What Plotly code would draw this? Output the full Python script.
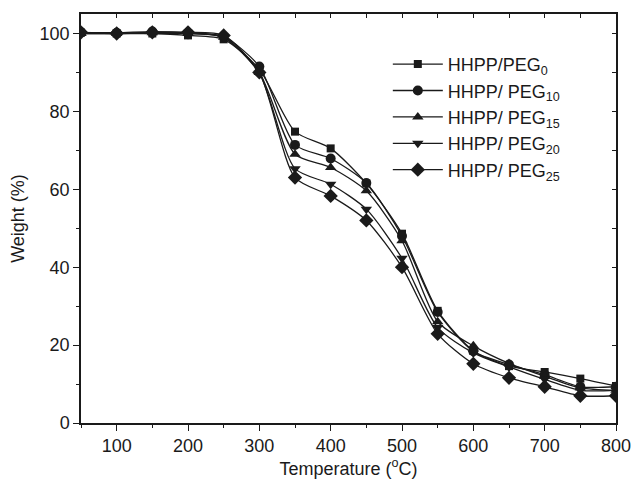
import plotly.graph_objects as go

temps = [50, 100, 150, 200, 250, 300, 350, 400, 450, 500, 550, 600, 650, 700, 750, 800]
peg0 = [100.2, 100.0, 100.0, 99.5, 98.5, 90.8, 74.8, 70.5, 61.5, 48.6, 28.8, 18.5, 14.6, 13.1, 11.4, 9.5]
peg10 = [100.3, 100.2, 100.5, 100.2, 99.2, 91.5, 71.4, 67.9, 61.6, 48.0, 28.5, 18.4, 15.0, 12.4, 9.3, 9.3]
peg15 = [100.0, 100.0, 100.2, 100.0, 99.0, 90.0, 69.0, 65.6, 59.6, 46.8, 26.0, 19.8, 15.3, 12.0, 9.0, 8.4]
peg20 = [100.0, 100.0, 100.0, 100.0, 99.0, 89.8, 65.3, 61.3, 54.9, 42.3, 24.5, 18.0, 14.4, 11.2, 8.4, 8.4]
peg25 = [100.3, 100.0, 100.3, 100.3, 99.5, 90.0, 63.0, 58.3, 52.0, 40.0, 22.9, 15.2, 11.6, 9.3, 7.0, 7.0]

names = ["HHPP/PEG<sub>0</sub>", "HHPP/ PEG<sub>10</sub>", "HHPP/ PEG<sub>15</sub>",
         "HHPP/ PEG<sub>20</sub>", "HHPP/ PEG<sub>25</sub>"]
series = [peg0, peg10, peg15, peg20, peg25]
symbols = ["square", "circle", "triangle-up", "triangle-down", "diamond"]
sizes = [8, 10, 10, 10, 11]

FONT = "Liberation Sans, Arial, sans-serif"
INK = "#1a1a1a"

fig = go.Figure()
for nm, ys, sym, sz in zip(names, series, symbols, sizes):
    fig.add_trace(go.Scatter(
        x=temps, y=ys, name=nm, mode="lines+markers",
        line=dict(color=INK, width=1.3, shape="spline", smoothing=0.7),
        marker=dict(symbol=sym, size=sz, color=INK),
    ))

# invisible trace for mirrored (inside-tick) axes
fig.add_trace(go.Scatter(x=[50, 800], y=[0, 105], xaxis="x2", yaxis="y2",
                         mode="markers", marker=dict(opacity=0), showlegend=False,
                         hoverinfo="skip"))

fig.update_layout(
    width=643, height=495,
    margin=dict(l=81, r=18, t=14, b=72),
    paper_bgcolor="white", plot_bgcolor="white",
    font=dict(family=FONT, size=18, color=INK),
    showlegend=True,
    legend=dict(x=0.5735, y=0.922, xanchor="left", yanchor="top",
                bgcolor="rgba(0,0,0,0)", font=dict(size=18, color=INK),
                itemwidth=50, tracegroupgap=0),
    xaxis=dict(range=[50, 800], tick0=0, dtick=100, ticks="outside", ticklen=6,
               tickwidth=1.2, tickcolor=INK, showline=True, linecolor=INK, linewidth=1.5,
               showgrid=False, zeroline=False,
               minor=dict(dtick=50, ticks="outside", ticklen=3, tickcolor=INK),
               title=dict(text="Temperature (<sup>o</sup>C)", font=dict(size=18), standoff=6)),
    yaxis=dict(range=[0, 105], tick0=0, dtick=20, ticks="outside", ticklen=6,
               tickwidth=1.2, tickcolor=INK, showline=True, linecolor=INK, linewidth=1.5,
               showgrid=False, zeroline=False,
               minor=dict(dtick=10, ticks="outside", ticklen=3, tickcolor=INK),
               title=dict(text="Weight (%)", font=dict(size=18), standoff=10)),
    xaxis2=dict(range=[50, 800], overlaying="x", side="top", anchor="y2",
                tick0=0, dtick=50, ticks="inside", ticklen=4, tickcolor=INK,
                showticklabels=False, showline=True, linecolor=INK, linewidth=1.5,
                showgrid=False, zeroline=False),
    yaxis2=dict(range=[0, 105], overlaying="y", side="right", anchor="x2",
                tick0=0, dtick=10, ticks="inside", ticklen=4, tickcolor=INK,
                showticklabels=False, showline=True, linecolor=INK, linewidth=1.5,
                showgrid=False, zeroline=False),
)

fig.write_html("out.html")
